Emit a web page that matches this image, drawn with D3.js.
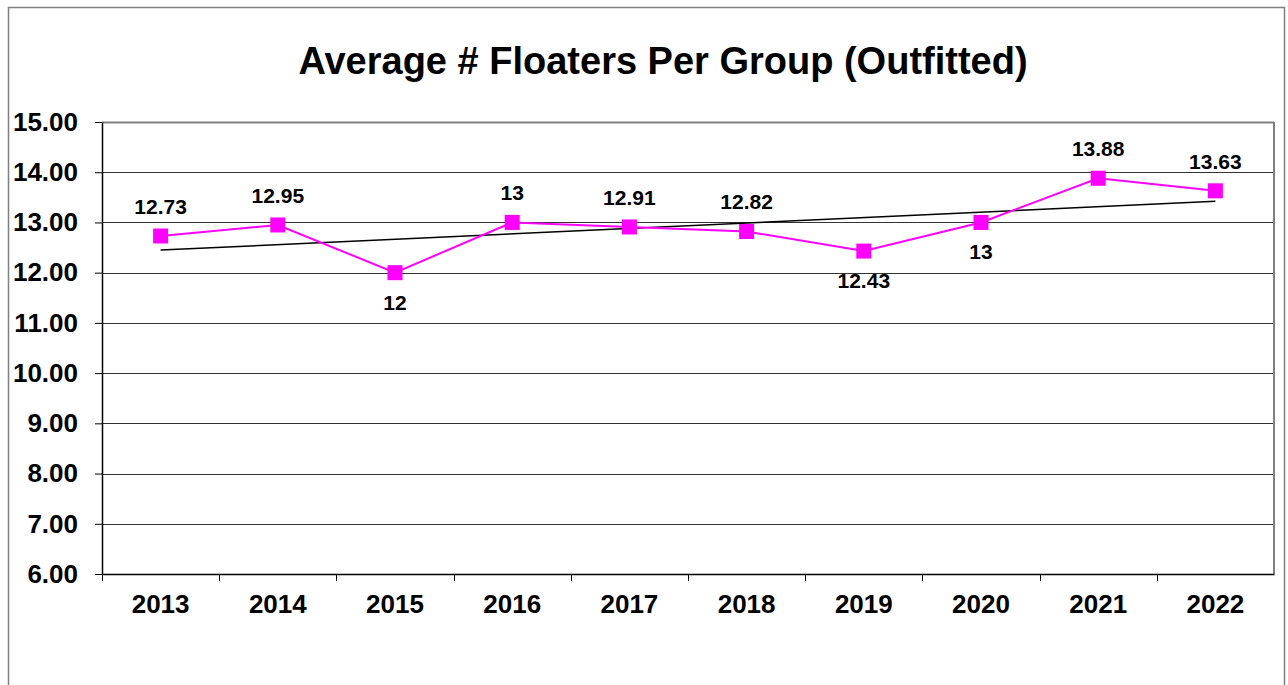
<!DOCTYPE html>
<html>
<head>
<meta charset="utf-8">
<script src="https://cdn.jsdelivr.net/npm/d3@7"></script>
<style>
  body { margin: 0; background: #fff; }
  text { font-family: "Liberation Sans", Arial, sans-serif; font-weight: bold; fill: #000; }
  .title { font-size: 38px; }
  .axis text { font-size: 26px; }
  .lbl { font-size: 21px; }
</style>
</head>
<body>
<div id="chart"></div>
<script>
let canvasWidth = 1288;
let canvasHeight = 685;

// data
let years = ["2013", "2014", "2015", "2016", "2017", "2018", "2019", "2020", "2021", "2022"];
let floaters = [12.73, 12.95, 12, 13, 12.91, 12.82, 12.43, 13, 13.88, 13.63];
let labelText = ["12.73", "12.95", "12", "13", "12.91", "12.82", "12.43", "13", "13.88", "13.63"];
let labelSide = ["above", "above", "below", "above", "above", "above", "below", "below", "above", "above"];
let yTicks = [6, 7, 8, 9, 10, 11, 12, 13, 14, 15];

let plot = { left: 102, right: 1274, top: 122, bottom: 574 };

let svg = d3.select("div#chart")
    .append("svg")
    .attr("width", canvasWidth)
    .attr("height", canvasHeight);

// outer chart border
svg.append("rect")
    .attr("x", 8.5).attr("y", 7.5)
    .attr("width", 1276).attr("height", 700)
    .attr("fill", "#fff")
    .attr("stroke", "#808080")
    .attr("stroke-width", 1.5);

// title
svg.append("text")
    .attr("class", "title")
    .attr("x", 663)
    .attr("y", 74)
    .attr("text-anchor", "middle")
    .text("Average # Floaters Per Group (Outfitted)");

let xScale = d3.scaleBand().domain(years).range([plot.left, plot.right]);
let yScale = d3.scaleLinear().domain([6, 15]).range([plot.bottom, plot.top]);

// grid lines
svg.append("g")
    .selectAll("line")
    .data(yTicks)
    .join("line")
    .attr("x1", plot.left)
    .attr("x2", plot.right)
    .attr("y1", d => Math.round(yScale(d)) + 0.5)
    .attr("y2", d => Math.round(yScale(d)) + 0.5)
    .attr("stroke", d => d === 15 ? "#808080" : "#333")
    .attr("stroke-width", d => d === 15 ? 2 : 1);

// right plot border
svg.append("line")
    .attr("x1", plot.right).attr("x2", plot.right)
    .attr("y1", plot.top).attr("y2", plot.bottom)
    .attr("stroke", "#808080")
    .attr("stroke-width", 2);

// y axis
let yAxis = svg.append("g")
    .attr("class", "axis")
    .attr("transform", "translate(" + plot.left + ",0)")
    .call(d3.axisLeft(yScale)
        .tickValues(yTicks)
        .tickFormat(d3.format(".2f"))
        .tickSize(7)
        .tickPadding(17)
        .tickSizeOuter(0));
yAxis.select(".domain").attr("stroke", "#000").attr("stroke-width", 1.5);
yAxis.selectAll(".tick line").attr("stroke", "#000");

// x axis
let xAxis = svg.append("g")
    .attr("class", "axis")
    .attr("transform", "translate(0," + plot.bottom + ")")
    .call(d3.axisBottom(xScale).tickSize(0).tickPadding(21));
xAxis.select(".domain").attr("stroke", "#000").attr("stroke-width", 1.5);

// category boundary ticks
xAxis.selectAll("line.sep")
    .data(years)
    .join("line")
    .attr("class", "sep")
    .attr("x1", d => Math.round(xScale(d)) + 0.5)
    .attr("x2", d => Math.round(xScale(d)) + 0.5)
    .attr("y1", 0)
    .attr("y2", 7)
    .attr("stroke", "#000");

let cx = d => xScale(d) + xScale.bandwidth() / 2;

// linear trendline (least squares over the series)
let n = floaters.length;
let mx = d3.mean(d3.range(n));
let my = d3.mean(floaters);
let slope = d3.sum(floaters, (v, i) => (i - mx) * (v - my)) / d3.sum(d3.range(n), i => (i - mx) * (i - mx));
let intercept = my - slope * mx;
svg.append("line")
    .attr("x1", cx(years[0]))
    .attr("x2", cx(years[n - 1]))
    .attr("y1", yScale(intercept))
    .attr("y2", yScale(intercept + slope * (n - 1)))
    .attr("stroke", "#000")
    .attr("stroke-width", 1.5);

// series line
svg.append("path")
    .datum(floaters)
    .attr("fill", "none")
    .attr("stroke", "#ff00ff")
    .attr("stroke-width", 2)
    .attr("d", d3.line()
        .x((d, i) => cx(years[i]))
        .y(d => yScale(d)));

// markers
let s = 15;
svg.append("g")
    .selectAll("rect")
    .data(floaters)
    .join("rect")
    .attr("x", (d, i) => cx(years[i]) - s / 2)
    .attr("y", d => yScale(d) - s / 2)
    .attr("width", s)
    .attr("height", s)
    .attr("fill", "#ff00ff");

// data labels
svg.append("g")
    .selectAll("text")
    .data(floaters)
    .join("text")
    .attr("class", "lbl")
    .attr("text-anchor", "middle")
    .attr("x", (d, i) => cx(years[i]))
    .attr("y", (d, i) => labelSide[i] === "above" ? yScale(d) - 22 : yScale(d) + 37)
    .text((d, i) => labelText[i]);
</script>
</body>
</html>
